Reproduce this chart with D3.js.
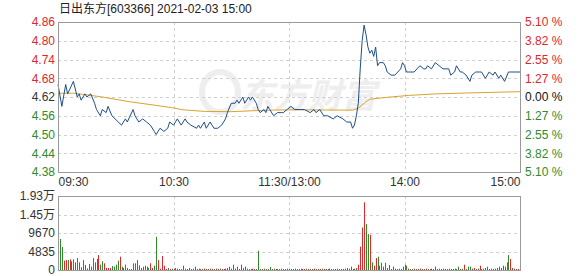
<!DOCTYPE html>
<html>
<head>
<meta charset="utf-8">
<script src="https://cdn.jsdelivr.net/npm/d3@7"></script>
<style>
  body { margin: 0; background: #fff; }
  svg text { font-family: "Liberation Sans", Arial, "Noto Sans CJK SC", sans-serif; font-size: 12px; }
  .grid { stroke: #d0d0d0; stroke-dasharray: 3,3; stroke-width: 1; }
  .frame { fill: none; stroke: #9a9a9a; stroke-width: 1; }
</style>
</head>
<body>
<svg id="chart" width="578" height="276"></svg>
<script>
// Title
var title = "日出东方[603366] 2021-02-03 15:00";

// Price axis (left) and change axis (right)
var priceTicks = [4.86, 4.80, 4.74, 4.68, 4.62, 4.56, 4.50, 4.44, 4.38];
var pctLabels = ["5.10 %", "3.82 %", "2.55 %", "1.27 %", "0.00 %", "1.27 %", "2.55 %", "3.82 %", "5.10 %"];
var prevClose = 4.62;

// Time axis (minutes since 09:30, lunch break removed)
var timeTicks = [0, 60, 120, 180, 240];
var timeLabels = ["09:30", "10:30", "11:30/13:00", "14:00", "15:00"];

// Volume axis
var volTicks = [0, 4835, 9670, 14505, 19340];
var volLabels = ["0", "4835", "9670", "1.45万", "1.93万"];

// Price line: minute, price
var priceMin = [0, 2, 4, 5, 8, 10, 11, 12, 14, 15, 17, 19, 20, 22, 23, 25, 26, 28, 33, 35, 36, 39, 40, 42, 44, 46, 48, 50, 51,
  53, 55, 57, 58, 60, 61, 62, 64, 66, 67, 69, 72, 73, 74, 76, 77, 79, 81, 83, 85, 87, 88, 90, 92, 93, 94, 96, 97, 99, 100,
  101, 103, 104, 105, 107, 108, 109, 110, 112, 114, 116, 117, 119, 121, 123, 126, 128, 131, 133, 134, 136, 138, 140, 143,
  145, 148, 150, 152, 153, 154, 155, 156, 157, 158, 159, 160, 161, 162, 163, 164, 165, 166, 167, 169, 170, 171, 173, 175,
  178, 179, 180, 181, 182, 185, 188, 190, 191, 192, 194, 196, 198, 200, 203, 204, 206, 207, 209, 210, 212, 214, 215, 217,
  219, 220, 222, 224, 226, 227, 229, 230, 232, 234, 235, 240];
var price = [4.66, 4.59, 4.66, 4.63, 4.67, 4.62, 4.63, 4.61, 4.63, 4.62, 4.63, 4.60, 4.58, 4.56, 4.58, 4.57, 4.59, 4.56, 4.53, 4.55, 4.54, 4.58, 4.56, 4.54, 4.55, 4.54, 4.53, 4.51, 4.50,
  4.52, 4.51, 4.52, 4.54, 4.53, 4.54, 4.55, 4.53, 4.55, 4.54, 4.53, 4.52, 4.53, 4.52, 4.54, 4.52, 4.54, 4.52, 4.52, 4.53, 4.55, 4.57, 4.60, 4.60, 4.61, 4.60, 4.62, 4.60, 4.62, 4.61,
  4.62, 4.60, 4.58, 4.57, 4.58, 4.57, 4.59, 4.58, 4.56, 4.57, 4.57, 4.57, 4.58, 4.59, 4.58, 4.58, 4.58, 4.57, 4.58, 4.57, 4.58, 4.56, 4.56, 4.55,
  4.56, 4.55, 4.54, 4.54, 4.52, 4.53, 4.56, 4.60, 4.71, 4.80, 4.85, 4.82, 4.78, 4.76, 4.77, 4.75, 4.78, 4.72, 4.73, 4.73, 4.72, 4.70, 4.69, 4.69,
  4.71, 4.73, 4.72, 4.70, 4.70, 4.70, 4.72, 4.71, 4.71, 4.72, 4.71, 4.73, 4.72, 4.71, 4.71, 4.69, 4.70, 4.72, 4.70, 4.70, 4.69, 4.67, 4.69, 4.70,
  4.70, 4.70, 4.68, 4.70, 4.69, 4.70, 4.68, 4.69, 4.67, 4.70, 4.70, 4.70];

// Average price line: minute, price
var avgMin = [1, 8, 15, 24, 37, 50, 59, 65, 76, 90, 101, 110, 121, 153, 156, 159, 162, 171, 182, 196, 213, 240];
var avgPrice = [4.632, 4.632, 4.627, 4.619, 4.605, 4.594, 4.586, 4.579, 4.574, 4.573, 4.576, 4.578, 4.579, 4.578, 4.584, 4.600, 4.613, 4.619, 4.625, 4.630, 4.633, 4.637];

// Volume per minute (minute 1..240) and colour (R up, G down)
var volume = [
  8100, 6000, 2450, 2600, 2600, 2800, 2270, 2800, 2000, 3130,
  2000, 700, 2600, 1300, 400, 1570, 870, 3130, 2000, 2870,
  3900, 1400, 2270, 1740, 520, 520, 520, 1040, 870, 1400,
  2430, 3480, 870, 520, 1400, 520, 260, 260, 1740, 1740,
  2600, 1220, 520, 870, 1130, 870, 520, 1740, 520, 1130,
  8700, 2600, 350, 3650, 1130, 260, 520, 260, 350, 260,
  520, 350, 260, 260, 1130, 350, 260, 520, 260, 350,
  870, 260, 350, 260, 260, 350, 260, 260, 350, 260,
  260, 350, 260, 350, 260, 260, 350, 520, 870, 350,
  1390, 350, 870, 260, 1390, 520, 870, 350, 260, 260,
  350, 260, 260, 5040, 260, 260, 350, 260, 260, 780,
  260, 350, 260, 260, 260, 350, 260, 260, 350, 260,
  260, 260, 350, 260, 260, 350, 260, 260, 350, 260,
  260, 260, 350, 260, 260, 260, 350, 260, 260, 260,
  350, 260, 260, 260, 350, 260, 260, 260, 350, 520,
  350, 870, 260, 350, 520, 1390, 6100, 11100, 17700, 12000,
  9400, 9200, 2000, 1130, 3130, 3480, 1130, 1900, 870, 1900,
  520, 1300, 260, 870, 350, 260, 350, 260, 870, 1390,
  1130, 350, 260, 260, 350, 260, 260, 350, 260, 260,
  350, 260, 260, 350, 260, 870, 260, 350, 260, 350,
  260, 260, 350, 260, 260, 350, 260, 870, 260, 350,
  1390, 260, 870, 870, 350, 520, 260, 350, 1130, 260,
  350, 520, 870, 260, 350, 260, 350, 520, 870, 520,
  1130, 870, 2000, 3900, 2870, 520, 350, 260, 260, 4780];
var volColor =
  "GGRRGRRGRG" + "RRGRRRGGRR" + "RGGRRRRGGG" + "GRGRRRRRGG" + "RGRRRRGRRG" +
  "GRRRRRGRGR" + "GRRGRRGRRG" + "GRGRGRRGRR" + "GRRGRRRRRR" + "RGRRRRRGRG" +
  "RRGGGRGRGG" + "GRGRGGRGRG" + "RGRGRGRRGR" + "GRRGRRGRRG" + "RGRRGRRGRR" +
  "RRRGRRRRRG" + "GRGRRGRGRG" + "RRGRGRGRRG" + "GRGRGRGRRG" + "RGRRGRRGRG" +
  "RGRGRRGGRG" + "RGGGRRGRRG" + "RGGGRRGRRR" + "RRGGRRGRRR";

// Colours
var red = "#e0282c";
var green = "#2f8a2a";
var dark = "#333333";

// Layout
var plotLeft = 58, plotRight = 520;
var priceTop = 22, priceBottom = 172;
var volTop = 196, volBottom = 270;

var svg = d3.select("#chart");

// Scales
var x = d3.scaleLinear().domain([0, 240]).range([plotLeft, plotRight]);
var y = d3.scaleLinear().domain([4.38, 4.86]).range([priceBottom, priceTop]);
var yVol = d3.scaleLinear().domain([0, 19340]).range([volBottom, volTop]);

// Title
svg.append("text")
    .attr("x", 59)
    .attr("y", 13)
    .attr("fill", "#222")
    .text(title);

// Faint watermark
svg.append("text")
    .attr("x", 240)
    .attr("y", 108)
    .attr("fill", "#eeeeee")
    .style("font-size", "34px")
    .style("font-weight", "bold")
    .style("font-style", "italic")
    .style("font-family", "'Noto Sans CJK SC', sans-serif")
    .text("东方财富");
svg.append("ellipse")
    .attr("cx", 220).attr("cy", 92)
    .attr("rx", 18).attr("ry", 20)
    .attr("fill", "none")
    .attr("stroke", "#eeeeee")
    .attr("stroke-width", 6);

// Grid lines (price panel)
var grid = svg.append("g").attr("id", "grid-lines");
grid.selectAll(".hgrid")
  .data(priceTicks.slice(1, -1))
  .enter().append("line")
    .attr("class", "grid")
    .attr("x1", plotLeft).attr("x2", plotRight)
    .attr("y1", d => Math.round(y(d)) + 0.5)
    .attr("y2", d => Math.round(y(d)) + 0.5);

grid.selectAll(".vgrid")
  .data(timeTicks.slice(1, -1))
  .enter().append("line")
    .attr("class", "grid")
    .attr("x1", d => Math.round(x(d)) + 0.5).attr("x2", d => Math.round(x(d)) + 0.5)
    .attr("y1", priceTop).attr("y2", priceBottom);

// Grid lines (volume panel)
grid.selectAll(".hvgrid")
  .data(volTicks.slice(1, -1))
  .enter().append("line")
    .attr("class", "grid")
    .attr("x1", plotLeft).attr("x2", plotRight)
    .attr("y1", d => Math.round(yVol(d)) + 0.5)
    .attr("y2", d => Math.round(yVol(d)) + 0.5);

grid.selectAll(".vvgrid")
  .data(timeTicks.slice(1, -1))
  .enter().append("line")
    .attr("class", "grid")
    .attr("x1", d => Math.round(x(d)) + 0.5).attr("x2", d => Math.round(x(d)) + 0.5)
    .attr("y1", volTop).attr("y2", volBottom);

// Left price axis
var yAxisLeft = d3.axisLeft(y).tickValues(priceTicks).tickSize(0).tickPadding(3)
    .tickFormat(d3.format(".2f"));
var leftAxis = svg.append("g")
    .attr("transform", "translate(" + plotLeft + ",0)")
    .call(yAxisLeft);
leftAxis.select(".domain").remove();
leftAxis.selectAll("text")
    .attr("font-family", null).attr("font-size", null)
    .attr("fill", d => d > prevClose ? red : (d < prevClose ? green : dark));

// Right change axis
var yAxisRight = d3.axisRight(y).tickValues(priceTicks).tickSize(0).tickPadding(5)
    .tickFormat((d, i) => pctLabels[i]);
var rightAxis = svg.append("g")
    .attr("transform", "translate(" + plotRight + ",0)")
    .call(yAxisRight);
rightAxis.select(".domain").remove();
rightAxis.selectAll("text")
    .attr("font-family", null).attr("font-size", null)
    .attr("fill", d => d > prevClose ? red : (d < prevClose ? green : "#111"));

// Time axis
var xAxis = d3.axisBottom(x).tickValues(timeTicks).tickSize(0).tickPadding(5)
    .tickFormat((d, i) => timeLabels[i]);
var bottomAxis = svg.append("g")
    .attr("transform", "translate(0," + priceBottom + ")")
    .call(xAxis);
bottomAxis.select(".domain").remove();
bottomAxis.selectAll("text")
    .attr("font-family", null).attr("font-size", null)
    .attr("fill", dark)
    .attr("text-anchor", (d, i) => i == 0 ? "start" : (i == timeTicks.length - 1 ? "end" : "middle"));

// Volume axis
var yAxisVol = d3.axisLeft(yVol).tickValues(volTicks).tickSize(0).tickPadding(3)
    .tickFormat((d, i) => volLabels[i]);
var volAxis = svg.append("g")
    .attr("transform", "translate(" + plotLeft + ",0)")
    .call(yAxisVol);
volAxis.select(".domain").remove();
volAxis.selectAll("text")
    .attr("font-family", null).attr("font-size", null)
    .attr("fill", dark);

// Volume bars
svg.append("g").selectAll("rect")
  .data(volume)
  .enter().append("rect")
    .attr("x", (d, i) => Math.round(x(i + 1)))
    .attr("width", 1)
    .attr("y", d => yVol(d))
    .attr("height", d => volBottom - yVol(d))
    .attr("fill", (d, i) => volColor[i] == "R" ? red : green);

// Average price line
var avgLine = d3.line()
    .x((d, i) => x(avgMin[i]))
    .y(d => y(d));
svg.append("path")
    .attr("d", avgLine(avgPrice))
    .attr("fill", "none")
    .attr("stroke", "#d9a32e")
    .attr("stroke-width", 1);

// Price line
var priceLine = d3.line()
    .x((d, i) => x(priceMin[i]))
    .y(d => y(d));
svg.append("path")
    .attr("d", priceLine(price))
    .attr("fill", "none")
    .attr("stroke", "#1d4f8a")
    .attr("stroke-width", 1);

// Frames
svg.append("rect").attr("class", "frame")
    .attr("x", plotLeft + 0.5).attr("y", priceTop + 0.5)
    .attr("width", plotRight - plotLeft).attr("height", priceBottom - priceTop);
svg.append("rect").attr("class", "frame")
    .attr("x", plotLeft + 0.5).attr("y", volTop + 0.5)
    .attr("width", plotRight - plotLeft).attr("height", volBottom - volTop);
</script>
</body>
</html>
